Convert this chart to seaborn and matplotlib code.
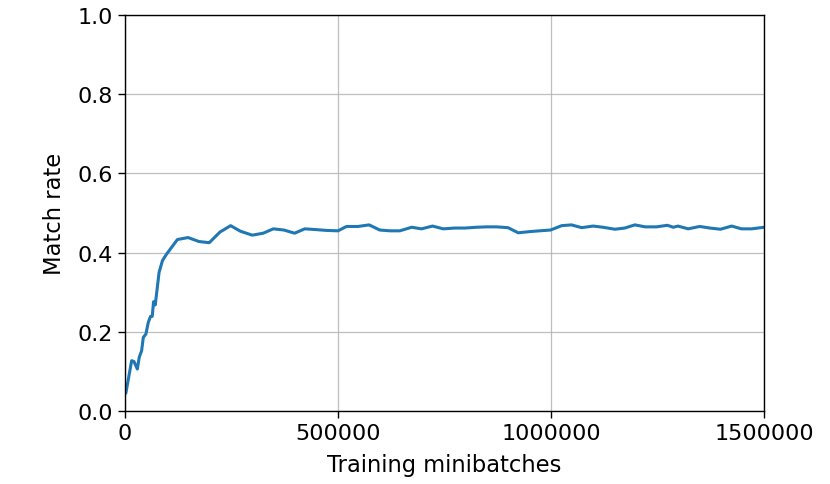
import matplotlib
matplotlib.use("Agg")
import matplotlib.pyplot as plt
import seaborn as sns
import pandas as pd
from matplotlib.ticker import FixedLocator, FormatStrFormatter

minibatches = [2000, 15600, 21000, 29000, 33500, 39000, 43000, 49000, 54700, 60000,
               64000, 67000, 71000, 80000, 88000, 97500, 123000, 148000, 173500, 197800,
               223000, 248000, 271000, 298700, 324500, 348000, 373000, 398000, 422000, 449500,
               473000, 500000, 520000, 547000, 573000, 598000, 622000, 645000, 673000, 696000,
               722000, 747000, 774000, 798000, 825000, 849000, 872000, 899000, 923000, 950000,
               973000, 999000, 1025000, 1048000, 1072000, 1099000, 1122000, 1150000, 1173000, 1197000,
               1221000, 1248000, 1273000, 1287000, 1298000, 1322000, 1349000, 1373000, 1398000, 1424000,
               1447000, 1471000, 1500000]
match_rate = [0.045, 0.127, 0.125, 0.106, 0.136, 0.152, 0.186, 0.194, 0.224, 0.239,
              0.239, 0.276, 0.268, 0.350, 0.380, 0.396, 0.433, 0.438, 0.428, 0.425,
              0.452, 0.468, 0.454, 0.444, 0.449, 0.460, 0.457, 0.449, 0.460, 0.458,
              0.456, 0.455, 0.466, 0.466, 0.470, 0.457, 0.455, 0.455, 0.464, 0.460,
              0.467, 0.460, 0.462, 0.462, 0.464, 0.465, 0.465, 0.463, 0.450, 0.453,
              0.455, 0.457, 0.468, 0.470, 0.463, 0.467, 0.464, 0.459, 0.462, 0.470,
              0.465, 0.465, 0.469, 0.464, 0.467, 0.460, 0.466, 0.462, 0.459, 0.467,
              0.460, 0.460, 0.464]
x_ticks = [0, 500000, 1000000, 1500000]
y_ticks = [0.0, 0.2, 0.4, 0.6, 0.8, 1.0]

df = pd.DataFrame({"Training minibatches": minibatches, "Match rate": match_rate})

sns.set_style("ticks")
plt.rcParams["font.family"] = ["DejaVu Sans"]
plt.rcParams["text.color"] = "black"
plt.rcParams["axes.labelcolor"] = "black"
plt.rcParams["xtick.color"] = "black"
plt.rcParams["ytick.color"] = "black"

fig = plt.figure(figsize=(8.3, 4.85), dpi=100)
ax = fig.add_axes([125 / 830, 1 - 412 / 485, (764 - 125) / 830, (412 - 16) / 485])
sns.lineplot(data=df, x="Training minibatches", y="Match rate", ax=ax,
             color="#1f77b4", linewidth=2.2)
ax.set_xlim(0, 1500000)
ax.set_ylim(0, 1)
ax.xaxis.set_major_locator(FixedLocator(x_ticks))
ax.yaxis.set_major_locator(FixedLocator(y_ticks))
ax.xaxis.set_major_formatter(FormatStrFormatter("%d"))
ax.yaxis.set_major_formatter(FormatStrFormatter("%.1f"))
ax.grid(True, color="#b0b0b0", linewidth=0.9, alpha=0.8)
ax.set_axisbelow(True)
for s in ax.spines.values():
    s.set_visible(True)
    s.set_color("black")
    s.set_linewidth(1.0)
ax.tick_params(direction="out", length=5, width=1, color="black", labelcolor="black",
               labelsize=16, pad=3.5)
ax.set_xlabel("Training minibatches", fontsize=16.3, color="black", labelpad=7.5)
ax.set_ylabel("Match rate", fontsize=16.3, color="black", labelpad=8.5)
fig.savefig("out.png", dpi=100)
